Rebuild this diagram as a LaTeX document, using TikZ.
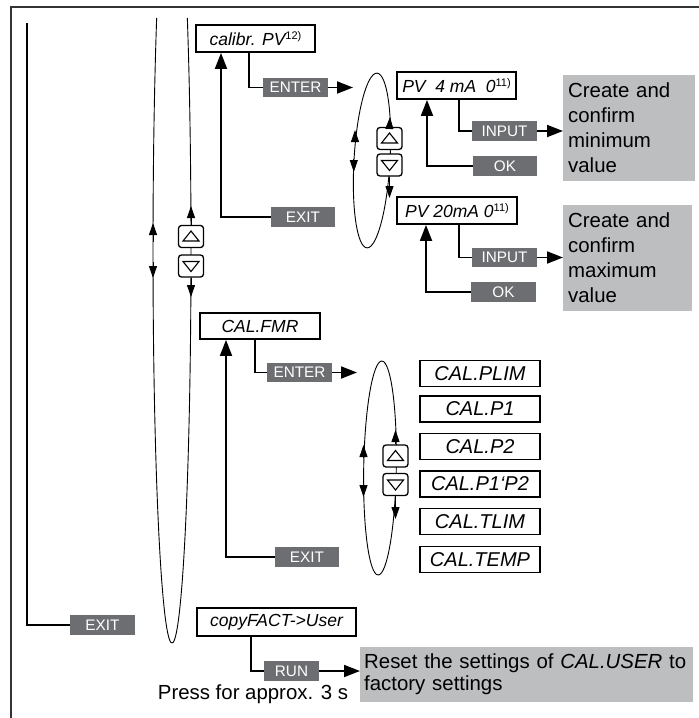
\documentclass[tikz,border=0pt]{standalone}
\usepackage{fontspec}
\setmainfont{Liberation Sans}
\usetikzlibrary{arrows.meta}
\definecolor{lbl}{HTML}{6D6E71}
\definecolor{pale}{HTML}{BCBEC0}
\newcommand\mysup[1]{\raisebox{6pt}{\fontsize{11}{11}\selectfont\upshape #1}}
\begin{document}
\begin{tikzpicture}[x=1pt,y=1pt,
  menubox/.style={draw, line width=1.8pt, inner sep=0pt, font=\fontsize{17.5}{20}\selectfont\itshape},
  listbox/.style={menubox, minimum width=120pt, minimum height=26pt, font=\fontsize{20}{22}\selectfont\itshape},
  keybox/.style={fill=lbl, text=white, inner sep=0pt, minimum height=19.5pt, font=\fontsize{15.3}{17}\selectfont},
  infobox/.style={fill=pale, inner xsep=5pt, inner ysep=0pt, font=\fontsize{20.4}{25}\selectfont, align=left, anchor=north west},
  conn/.style={line width=1.8pt},
  arr/.style={conn, -{Triangle[length=16pt,width=12pt]}},
  ellline/.style={line width=0.9pt},
  larr/.style={line width=0.9pt, -{Triangle[length=12pt,width=8pt]}},
  btn/.style={draw, line width=1.3pt, fill=white, rounded corners=3pt, minimum width=25pt, minimum height=22pt, inner sep=0pt},
  btnup/.style={btn, path picture={\draw[line width=1.1pt, sharp corners] ([shift={(-8,-4.5)}]path picture bounding box.center) -- ++(16,0) -- ++(-8,10) -- cycle;}},
  btndown/.style={btn, path picture={\draw[line width=1.1pt, sharp corners] ([shift={(-8,4.5)}]path picture bounding box.center) -- ++(16,0) -- ++(-8,-10) -- cycle;}},
  rimline/.style={line width=1.3pt, black!80}
]
\useasboundingbox (0,0) rectangle (699,-718);
% frame
\draw[rimline] (10,-7) -- (699,-7);
\draw[rimline] (11,-7) -- (11,-718);

% loops
\draw[ellline] (187.33,-18) arc[start angle=36.2, end angle=-216.2, x radius=19pt, y radius=393pt];
\draw[ellline, rotate around={-3.3:(372,-160.5)}] (372,-160.5) ellipse [x radius=18pt, y radius=87.5pt];
\draw[ellline, rotate around={-1:(380,-468)}] (380,-468) ellipse [x radius=16.3pt, y radius=107pt];

% loop arrows (left branches)
\draw[larr] (153,-242) -- (153,-223);
\draw[larr] (153,-262) -- (153,-278);
\draw[larr] (355,-143) -- (355,-130);
\draw[larr] (353.8,-159) -- (353.8,-172);
\draw[larr] (363.5,-458) -- (363.5,-445);
\draw[larr] (363.5,-484) -- (363.5,-497);

% buttons
\node[btnup] (bigup) at (191,-236.5) {};
\node[btndown] (bigdn) at (191,-266) {};
\node[btnup] (aup) at (389.5,-138.5) {};
\node[btndown] (adn) at (389.5,-165) {};
\node[btnup] (bup) at (395.5,-456) {};
\node[btndown] (bdn) at (395.5,-484.5) {};

\draw[larr] (bigup.north) -- (191,-206);
\draw[larr] (bigdn.south) -- (191,-297);
\draw[larr] (aup.north) -- (390,-117);
\draw[larr] (adn.south) -- (389.5,-198);
\draw[larr] (bup.north) -- (395.5,-430);
\draw[larr] (bdn.south) -- (395.5,-519);

% menu boxes
\node[menubox, minimum width=119pt, minimum height=27pt] (calib) at (255.5,-38.5) {calibr. PV\mysup{12)}};
\node[menubox, minimum width=119pt, minimum height=27pt] (pv4) at (456.5,-85.5) {PV\ \ 4 mA\ \ 0\mysup{11)}};
\node[menubox, minimum width=120pt, minimum height=27pt] (pv20) at (457,-210.5) {PV 20mA 0\mysup{11)}};
\node[menubox, minimum width=120pt, minimum height=26pt] (calfmr) at (260,-326) {CAL.FMR};
\node[menubox, minimum width=159pt, minimum height=28pt] (copy) at (276.5,-622) {copyFACT->User};

\node[listbox] (plim) at (480,-373.5) {CAL.PLIM};
\node[listbox] (p1) at (480,-409) {CAL.P1};
\node[listbox] (p2) at (480,-446.5) {CAL.P2};
\node[listbox] (p1p2) at (480,-484) {CAL.P1‘P2};
\node[listbox] (tlim) at (480,-521.5) {CAL.TLIM};
\node[listbox] (temp) at (480,-559.5) {CAL.TEMP};

% key labels
\node[keybox, minimum width=65pt] (enter1) at (295.5,-87.5) {ENTER};
\node[keybox, minimum width=64pt] (exit1) at (303,-217) {EXIT};
\node[keybox, minimum width=65pt] (input1) at (504.5,-131) {INPUT};
\node[keybox, minimum width=64pt] (ok1) at (505,-166) {OK};
\node[keybox, minimum width=65pt] (input2) at (504.5,-257.5) {INPUT};
\node[keybox, minimum width=65pt] (ok2) at (503.5,-292) {OK};
\node[keybox, minimum width=65pt] (enter2) at (299.5,-372.5) {ENTER};
\node[keybox, minimum width=64pt] (exit2) at (307,-557) {EXIT};
\node[keybox, minimum width=65pt] (exit3) at (102.5,-625) {EXIT};
\node[keybox, minimum width=55pt] (run) at (291.5,-671) {RUN};

% info boxes
\node[infobox, text width=122pt, minimum height=106pt] (info1) at (563,-75) {Create and\\confirm\\minimum\\value};
\node[infobox, text width=119pt, minimum height=106pt] (info2) at (563,-205) {Create and\\confirm\\maximum\\value};
\node[infobox, inner xsep=4pt, text width=325pt, minimum height=55pt, font=\fontsize{20.4}{22}\selectfont] (info3) at (360,-647) {Reset the settings of \textit{CAL.USER} to\\factory settings};
\node[font=\fontsize{20.4}{22}\selectfont, inner sep=0pt, anchor=base] (press) at (253,-699) {Press for approx. 3 s};

% connectors
\coordinate (e1tip) at (353,-87.5);
\coordinate (e2tip) at (357,-372.5);
\coordinate (topleft) at (27,-23);
\draw[conn] ([xshift=-6.5pt]calib.south) |- (enter1.west);
\draw[arr] (enter1.east) -- (e1tip);
\draw[arr] (exit1.west) -| ([xshift=-34.5pt]calib.south);
\draw[conn] ([xshift=2.5pt]pv4.south) |- (input1.west);
\draw[arr] (input1.east) -- (input1.east -| info1.west);
\draw[arr] (ok1.west) -| ([xshift=-29.5pt]pv4.south);
\draw[conn] ([xshift=2pt]pv20.south) |- (input2.west);
\draw[arr] (input2.east) -- (input2.east -| info2.west);
\draw[arr] (ok2.west) -| ([xshift=-31pt]pv20.south);
\draw[conn] ([xshift=-5pt]calfmr.south) |- (enter2.west);
\draw[arr] (enter2.east) -- (e2tip);
\draw[arr] (exit2.west) -| ([xshift=-34pt]calfmr.south);
\draw[conn] (exit3.west) -| (topleft);
\draw[conn] ([xshift=-25.5pt]copy.south) |- (run.west);
\draw[arr] (run.east) -- (run.east -| info3.west);
\end{tikzpicture}
\end{document}
